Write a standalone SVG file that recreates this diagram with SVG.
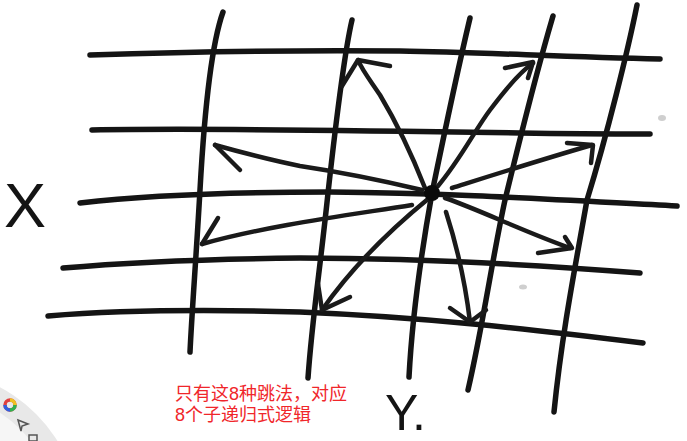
<svg xmlns="http://www.w3.org/2000/svg" width="687" height="441" viewBox="0 0 687 441">
<style>
.g{fill:none;stroke:#141414;stroke-width:5.5;stroke-linecap:round;stroke-linejoin:round}
.a{fill:none;stroke:#1a1a1a;stroke-width:4.5;stroke-linecap:round;stroke-linejoin:round}
.lbl{font-family:"Liberation Sans","DejaVu Sans",sans-serif;fill:#141414}
.note{font-family:"Liberation Sans","Noto Sans CJK SC",sans-serif;font-size:18px;fill:#f0262a}
</style>
<rect width="687" height="441" fill="#ffffff"/>
<g id="toolbar">
<circle cx="-70" cy="520" r="150" fill="#e8e8e8"/>
<circle cx="-70" cy="520" r="128" fill="#f6f6f6"/>
<circle cx="10" cy="405" r="5" fill="none" stroke="#e04040" stroke-width="3.5"/>
<path d="M10,400 A5,5 0 0 1 15,405" fill="none" stroke="#f0c020" stroke-width="3.5"/>
<path d="M15,405 A5,5 0 0 1 10,410" fill="none" stroke="#30b050" stroke-width="3.5"/>
<path d="M10,410 A5,5 0 0 1 5,405" fill="none" stroke="#3060e0" stroke-width="3.5"/>
<path d="M18,420 L28,424 L22,426 L21,431 Z" fill="none" stroke="#555" stroke-width="1.5"/>
<rect x="29" y="435" width="8" height="6" fill="none" stroke="#555" stroke-width="1.5"/>
</g>
<g id="grid">
<path class="g" d="M90,55 C180,52 300,50 400,51 C480,52 560,57 660,59"/>
<path class="g" d="M92,130 C200,128 400,131 520,133 C580,134 620,134 650,134"/>
<path class="g" d="M80,203 C140,196 220,192 330,192 C450,193 560,200 677,206"/>
<path class="g" d="M63,268 C130,262 200,259 300,258 C420,258 550,266 640,273"/>
<path class="g" d="M48,316 C110,311 190,309 300,312 C420,317 520,328 643,343"/>
<path class="g" d="M223,12 C213,40 205,100 200,190 C196,260 192,310 190,352"/>
<path class="g" d="M352,20 C345,50 335,130 328,193 C320,270 312,320 308,378"/>
<path class="g" d="M470,18 C460,60 445,130 432,193 C420,260 412,320 409,377"/>
<path class="g" d="M553,16 C540,60 522,130 505,200 C492,260 483,325 468,390"/>
<path class="g" d="M637,5 C628,50 607,135 587,200 C575,268 562,333 554,412"/>
</g>
<g id="connectors">
<path class="a" d="M425,188 C410,150 395,120 380,95 C370,80 362,70 358,60"/>
<path class="a" d="M390,66 L358,60 L342,86"/>
<path class="a" d="M438,186 C460,160 475,130 490,110 C505,90 520,72 533,63"/>
<path class="a" d="M505,68 L533,62 L528,78"/>
<path class="a" d="M452,188 C490,176 540,160 592,145"/>
<path class="a" d="M567,143 L593,145 L591,163"/>
<path class="a" d="M445,198 C480,210 520,230 570,248"/>
<path class="a" d="M565,237 L572,248 L538,253"/>
<path class="a" d="M446,212 C455,240 465,280 470,322"/>
<path class="a" d="M450,308 L470,322 L486,310"/>
<path class="a" d="M428,199 C390,230 350,270 322,310"/>
<path class="a" d="M318,284 L322,310 L350,297"/>
<path class="a" d="M412,205 C350,215 270,225 202,244"/>
<path class="a" d="M218,218 L202,244"/>
<path class="a" d="M422,190 C380,180 340,172 300,166 C270,160 240,152 215,145"/>
<path class="a" d="M240,170 L215,145"/>
</g>
<g id="center">
<circle cx="432" cy="193" r="8" fill="#0a0a0a"/>
</g>
<g id="specks">
<ellipse cx="662" cy="118" rx="4" ry="3" fill="#cfcfcf"/>
<ellipse cx="523" cy="287" rx="4" ry="2.5" fill="#cfcfcf"/>
</g>
<g id="label-x"><text class="lbl" x="4" y="227" font-size="63">X</text></g>
<g id="label-y"><text class="lbl" x="385" y="430" font-size="50">Y.</text></g>
<g id="note">
<text class="note" x="175" y="400">只有这8种跳法，对应</text>
<text class="note" x="175" y="421">8个子递归式逻辑</text>
</g>
</svg>
